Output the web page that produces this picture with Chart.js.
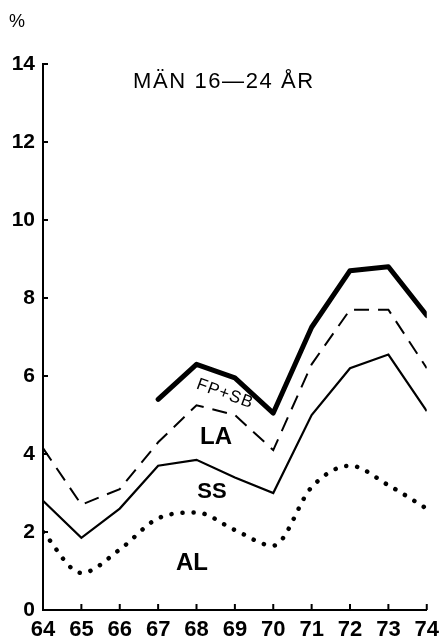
<!DOCTYPE html>
<html>
<head>
<meta charset="utf-8">
<script src="https://cdn.jsdelivr.net/npm/chart.js@4.4.0/dist/chart.umd.min.js"></script>
<style>
  html, body { margin: 0; padding: 0; background: #fff; }
  #wrap { width: 446px; height: 642px; }
</style>
</head>
<body>
<div id="wrap"><canvas id="myChart" width="446" height="642"></canvas></div>
<script>
// years 1964-1974
const years = [64, 65, 66, 67, 68, 69, 70, 71, 72, 73, 74]
const yTicks = [0, 2, 4, 6, 8, 10, 12, 14]

// cumulative levels, percent
const fpsb = [null, null, null, 5.4, 6.3, 5.95, 5.05, 7.25, 8.7, 8.8, 7.55]
const la = [4.15, 2.7, 3.1, 4.3, 5.25, 5.0, 4.1, 6.3, 7.7, 7.7, 6.2]
const ss = [2.8, 1.85, 2.6, 3.7, 3.85, 3.4, 3.0, 5.0, 6.2, 6.55, 5.1]
const al = [2.0, 0.95, 1.55, 2.35, 2.5, 2.05, 1.65, 3.15, 3.7, 3.2, 2.6]

const font = "'Liberation Sans', Arial, sans-serif"

function pts(arr){
  const out = []
  for (let i = 0; i < years.length; i++) {
    if (arr[i] != null) out.push({x: years[i], y: arr[i]})
  }
  return out
}

// text labels and inner tick marks
const extras = {
  id: 'extras',
  afterDraw(chart){
    const ctx = chart.ctx
    const xs = chart.scales.x, ys = chart.scales.y
    ctx.save()
    ctx.strokeStyle = '#000'
    ctx.lineWidth = 2
    yTicks.forEach(v => {
      if (v == 0) return
      const y = ys.getPixelForValue(v)
      ctx.beginPath(); ctx.moveTo(xs.left, y); ctx.lineTo(xs.left + 5, y); ctx.stroke()
    })
    years.forEach(v => {
      const x = xs.getPixelForValue(v)
      ctx.beginPath(); ctx.moveTo(x, ys.bottom); ctx.lineTo(x, ys.bottom - 6); ctx.stroke()
    })

    ctx.fillStyle = '#000'
    ctx.textAlign = 'left'
    ctx.textBaseline = 'middle'
    ctx.font = '18px ' + font
    ctx.fillText('%', 9, 22)

    ctx.font = '22px ' + font
    ctx.letterSpacing = '1.6px'
    ctx.fillText('MÄN 16—24 ÅR', 133, 82)
    ctx.letterSpacing = '0px'

    ctx.textAlign = 'center'
    ctx.font = 'bold 24px ' + font
    ctx.fillText('LA', 216, 437)
    ctx.font = 'bold 22px ' + font
    ctx.fillText('SS', 212, 492)
    ctx.font = 'bold 24px ' + font
    ctx.fillText('AL', 192, 563)

    ctx.translate(225, 394)
    ctx.rotate(20 * Math.PI / 180)
    ctx.font = '17px ' + font
    ctx.letterSpacing = '1px'
    ctx.fillText('FP+SB', 0, 0)
    ctx.restore()
  }
}

new Chart(document.getElementById('myChart'), {
  type: 'line',
  data: {
    datasets: [
      { label: 'FP+SB', data: pts(fpsb), borderColor: '#000', borderWidth: 5, tension: 0, pointRadius: 0, borderJoinStyle: 'round', borderCapStyle: 'round' },
      { label: 'LA', data: pts(la), borderColor: '#000', borderWidth: 2, borderDash: [15, 9], tension: 0, pointRadius: 0 },
      { label: 'SS', data: pts(ss), borderColor: '#000', borderWidth: 2.2, tension: 0, pointRadius: 0 },
      { label: 'AL', data: pts(al), borderColor: '#000', borderWidth: 4.5, borderDash: [0.1, 11], borderCapStyle: 'round', cubicInterpolationMode: 'monotone', pointRadius: 0 }
    ]
  },
  options: {
    responsive: false,
    animation: false,
    layout: { padding: { top: 64, right: 19, left: 0, bottom: 0 } },
    plugins: { legend: { display: false }, tooltip: { enabled: false } },
    scales: {
      x: {
        type: 'linear', min: 64, max: 74,
        afterFit(s){ s.height = 32 },
        afterBuildTicks(s){ s.ticks = years.map(v => ({value: v})) },
        grid: { display: false, drawTicks: false },
        border: { display: true, color: '#000', width: 2 },
        ticks: { color: '#000', padding: 7, maxRotation: 0, autoSkip: false, font: { family: font, size: 22, weight: 'bold' } }
      },
      y: {
        min: 0, max: 14,
        afterFit(s){ s.width = 43 },
        afterBuildTicks(s){ s.ticks = yTicks.map(v => ({value: v})) },
        grid: { display: false, drawTicks: false },
        border: { display: true, color: '#000', width: 2 },
        ticks: { color: '#000', padding: 8, font: { family: font, size: 21, weight: 'bold' } }
      }
    }
  },
  plugins: [extras]
})
</script>
</body>
</html>
